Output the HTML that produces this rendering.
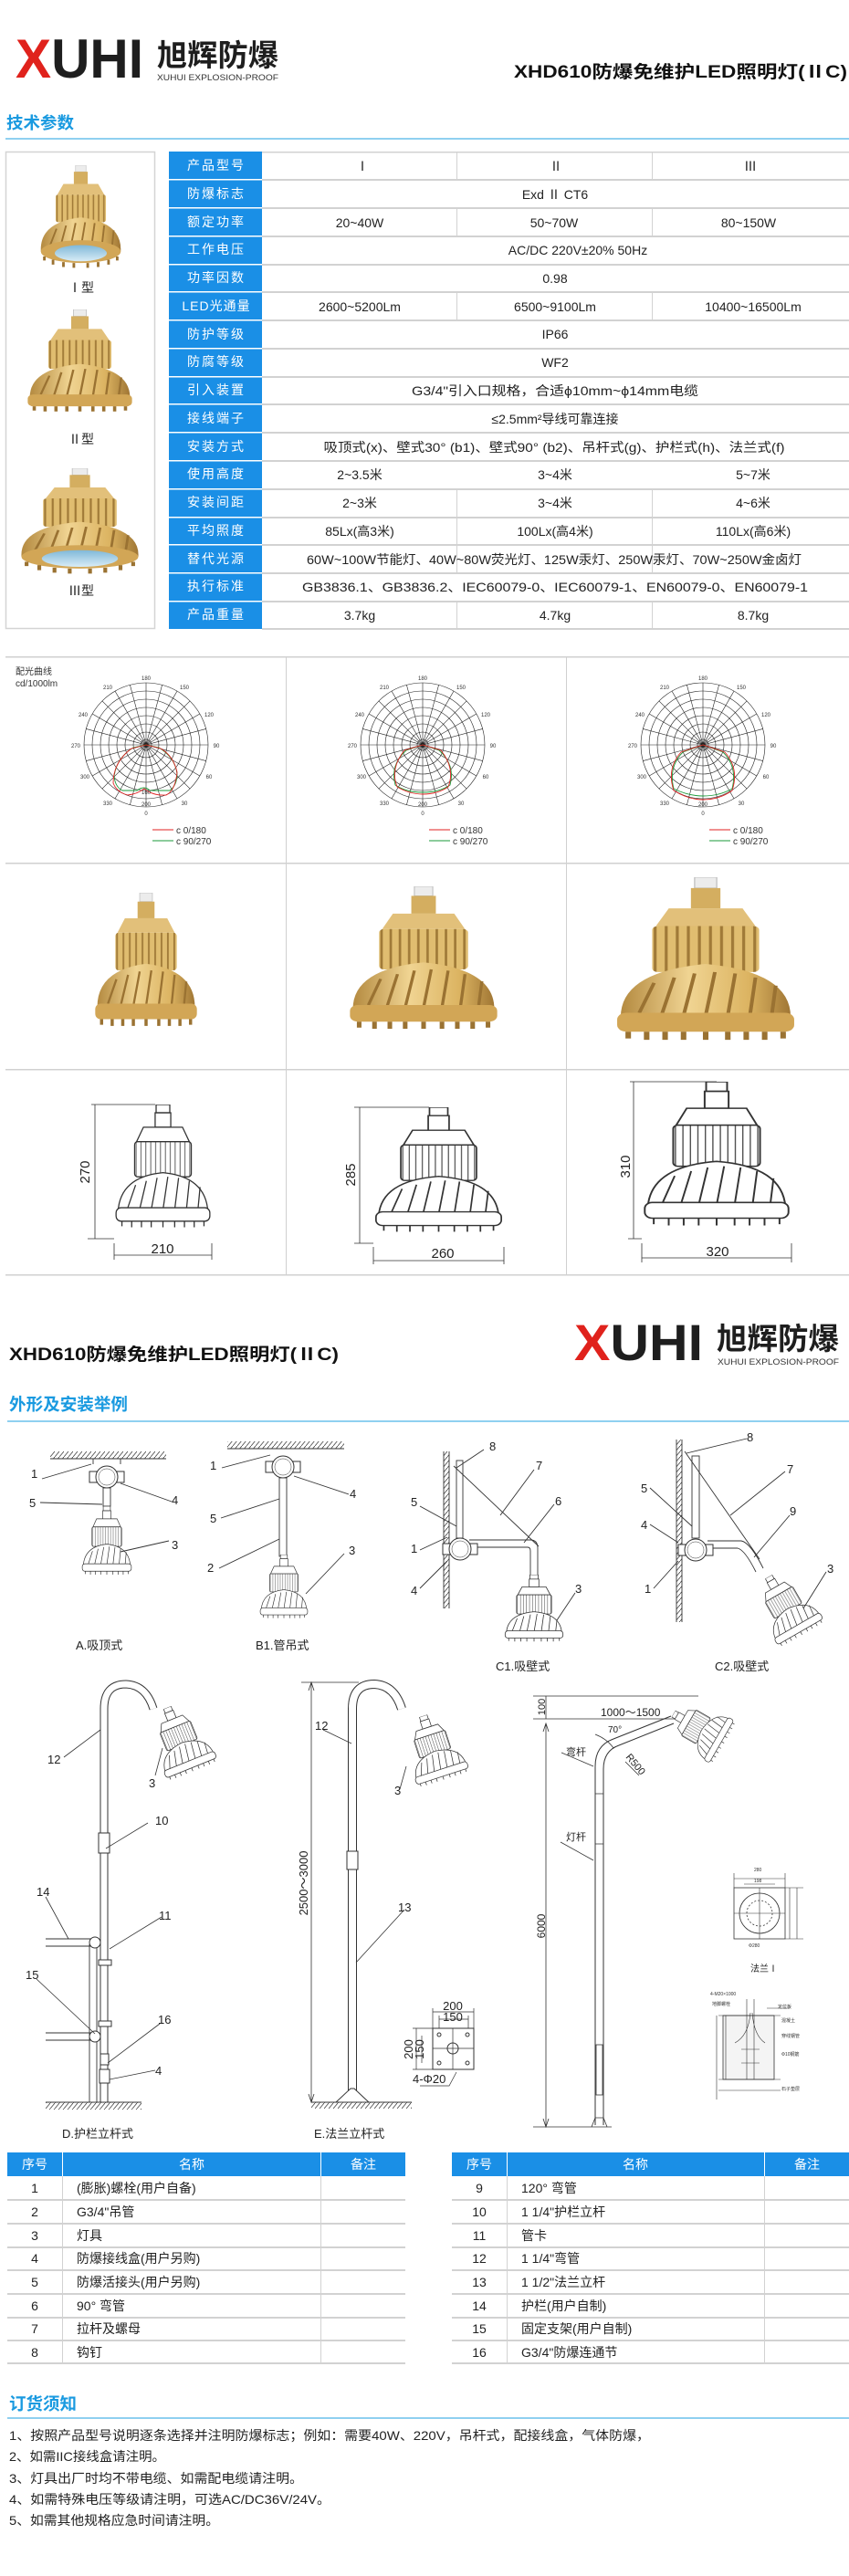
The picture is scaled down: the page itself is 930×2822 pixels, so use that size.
<!DOCTYPE html>
<html><head><meta charset="utf-8">
<style>
html,body{margin:0;padding:0;background:#fff;}
body{width:930px;height:2822px;position:relative;overflow:hidden;font-family:"Liberation Sans","Noto Sans CJK SC",sans-serif;}
svg{position:absolute;left:0;top:0;}
text{font-family:"Liberation Sans","Noto Sans CJK SC",sans-serif;}
</style></head><body>
<svg width="930" height="2822" viewBox="0 0 930 2822" xmlns="http://www.w3.org/2000/svg">
<defs>
<linearGradient id="gd" x1="0" x2="1" y1="0" y2="0"><stop offset="0" stop-color="#b48a40"/><stop offset=".4" stop-color="#f0d492"/><stop offset=".75" stop-color="#dcb462"/><stop offset="1" stop-color="#a07634"/></linearGradient>
<linearGradient id="bl" x1="0" x2="0" y1="0" y2="1"><stop offset="0" stop-color="#7fb8d8"/><stop offset="1" stop-color="#d8ecf6"/></linearGradient>
<pattern id="fins" width="6" height="10" patternUnits="userSpaceOnUse"><rect width="6" height="10" fill="#e0bd70"/><rect x="3.8" width="1.6" height="10" fill="#a07a38"/></pattern>
<pattern id="lfins" width="5" height="10" patternUnits="userSpaceOnUse"><rect width="5" height="10" fill="#fff"/><line x1="2.5" y1="0" x2="2.5" y2="10" stroke="#444" stroke-width=".8"/></pattern>
<pattern id="hatch" width="5" height="6" patternUnits="userSpaceOnUse"><line x1="0" y1="6" x2="5" y2="0" stroke="#444" stroke-width=".8"/></pattern>
<symbol id="lp" viewBox="0 0 100 130" preserveAspectRatio="none">
 <rect x="44" y="0" width="12" height="8" fill="#ececec" stroke="#bbb" stroke-width=".6"/>
 <rect x="42" y="8" width="16" height="15" fill="#d4ae60"/>
 <path d="M30 23 H70 L77 36 H23Z" fill="#e2c07a"/>
 <rect x="21" y="36" width="58" height="34" rx="3" fill="url(#fins)"/>
 <path d="M4 106 Q2 70 50 64 Q98 70 96 106Z" fill="url(#gd)"/>
 <path d="M14 100 L22 78 M26 102 L33 74 M38 102 L44 71 M50 102 L55 70 M62 102 L66 71 M74 102 L77 74 M86 100 L88 80" stroke="#9a7232" stroke-width="2"/>
 <rect x="2" y="100" width="96" height="14" rx="5" fill="#d2a656"/>
 <path d="M8 114 v5 M18 114 v6 M28 114 v6 M38 114 v6 M50 114 v6 M62 114 v6 M72 114 v6 M82 114 v6 M92 114 v5" stroke="#9a7232" stroke-width="3"/>
</symbol>
<symbol id="lpg" viewBox="0 0 100 130" preserveAspectRatio="none">
 <rect x="44" y="0" width="12" height="8" fill="#ececec" stroke="#bbb" stroke-width=".6"/>
 <rect x="42" y="8" width="16" height="15" fill="#d4ae60"/>
 <path d="M30 23 H70 L77 36 H23Z" fill="#e2c07a"/>
 <rect x="21" y="36" width="58" height="34" rx="3" fill="url(#fins)"/>
 <path d="M4 106 Q2 70 50 64 Q98 70 96 106Z" fill="url(#gd)"/>
 <path d="M14 100 L22 78 M26 102 L33 74 M38 102 L44 71 M50 102 L55 70 M62 102 L66 71 M74 102 L77 74 M86 100 L88 80" stroke="#9a7232" stroke-width="2"/>
 <ellipse cx="50" cy="106" rx="46" ry="14" fill="#d2a656"/>
 <ellipse cx="50" cy="108" rx="30" ry="10" fill="url(#bl)"/>
 <path d="M8 112 v5 M18 116 v6 M30 119 v6 M42 120 v6 M58 120 v6 M70 119 v6 M82 116 v6 M92 112 v5" stroke="#9a7232" stroke-width="3"/>
</symbol>
<symbol id="ll" viewBox="0 0 100 130" preserveAspectRatio="none">
 <g fill="#fff" stroke="#333" stroke-width="1.2">
 <rect x="43" y="0" width="14" height="8"/>
 <path d="M42 8 H58 V22 H42Z"/>
 <path d="M30 22 H70 L77 36 H23Z"/>
 <rect x="21" y="36" width="58" height="34" rx="3" fill="url(#lfins)"/>
 <path d="M4 104 Q6 70 50 66 Q94 70 96 104Z"/>
 <path d="M14 100 L22 78 M26 102 L33 74 M38 102 L44 71 M50 102 L55 70 M62 102 L66 71 M74 102 L77 74 M86 100 L88 80" fill="none"/>
 <rect x="2" y="100" width="96" height="13" rx="5"/>
 <path d="M8 113 v5 M18 113 v6 M28 113 v6 M38 113 v6 M50 113 v6 M62 113 v6 M72 113 v6 M82 113 v6 M92 113 v5"/>
 </g>
</symbol>
<symbol id="polar" viewBox="-80 -80 160 160">
 <g fill="none" stroke="#222" stroke-width=".6">
 <circle r="68"/><circle r="59"/><circle r="50"/><circle r="41"/><circle r="32"/><circle r="23"/><circle r="14"/><circle r="6"/>
 <path d="M0 -68V68M-68 0H68M-34 -58.9L34 58.9M34 -58.9L-34 58.9M-58.9 -34L58.9 34M58.9 -34L-58.9 34M-17.6 -65.7L17.6 65.7M17.6 -65.7L-17.6 65.7M-48.1 -48.1L48.1 48.1M48.1 -48.1L-48.1 48.1M-65.7 -17.6L65.7 17.6M65.7 -17.6L-65.7 17.6"/>
 </g>
</symbol>
<symbol id="jbox" viewBox="-20 -20 40 40">
 <g fill="#fff" stroke="#333" stroke-width="1">
 <rect x="-19" y="-6" width="8" height="12"/><rect x="11" y="-6" width="8" height="12"/>
 <circle r="12"/><circle r="9" fill="none" stroke-width=".5"/>
 </g>
</symbol>
</defs>

<!-- ===== HEADER ===== -->
<text x="17" y="85" font-size="60" font-weight="bold" textLength="140" lengthAdjust="spacingAndGlyphs"><tspan fill="#e0221c">X</tspan><tspan fill="#1e1e1e">UHI</tspan></text>
<text x="172" y="72" font-size="33" font-weight="bold" fill="#1e1e1e" textLength="133" lengthAdjust="spacingAndGlyphs">旭辉防爆</text>
<text x="172" y="88" font-size="9" fill="#333" textLength="133" lengthAdjust="spacingAndGlyphs">XUHUI EXPLOSION-PROOF</text>
<text x="563" y="85" font-size="19" font-weight="bold" fill="#111" textLength="365" lengthAdjust="spacingAndGlyphs">XHD610防爆免维护LED照明灯(ⅡC)</text>

<text x="7" y="141" font-size="18" font-weight="bold" fill="#1a9ae0" textLength="74" lengthAdjust="spacingAndGlyphs">技术参数</text>
<rect x="6" y="151" width="924" height="2" fill="#8fd0f0"/>

<!-- left panel -->
<rect x="6.5" y="166.5" width="163" height="522" fill="none" stroke="#d4d4d4" stroke-width="1.5"/>
<use href="#lpg" x="41" y="181" width="95" height="116"/>
<text x="89" y="320" font-size="14" text-anchor="middle" fill="#222">Ⅰ型</text>
<use href="#lp" x="28" y="339" width="119" height="121"/>
<text x="89" y="486" font-size="14" text-anchor="middle" fill="#222">Ⅱ型</text>
<use href="#lpg" x="18" y="513" width="139" height="119"/>
<text x="89" y="652" font-size="14" text-anchor="middle" fill="#222">Ⅲ型</text>

<!-- spec table -->
<g font-size="14" fill="#fff" text-anchor="middle" letter-spacing="2">
<rect x="185" y="166" width="102" height="523" fill="#1a8fe6"/>
<g fill="#fff">
<rect x="185" y="196" width="102" height="1.5"/><rect x="185" y="227" width="102" height="1.5"/><rect x="185" y="258" width="102" height="1.5"/><rect x="185" y="289" width="102" height="1.5"/><rect x="185" y="319" width="102" height="1.5"/><rect x="185" y="350" width="102" height="1.5"/><rect x="185" y="381" width="102" height="1.5"/><rect x="185" y="412" width="102" height="1.5"/><rect x="185" y="442" width="102" height="1.5"/><rect x="185" y="473" width="102" height="1.5"/><rect x="185" y="504" width="102" height="1.5"/><rect x="185" y="535" width="102" height="1.5"/><rect x="185" y="566" width="102" height="1.5"/><rect x="185" y="596" width="102" height="1.5"/><rect x="185" y="627" width="102" height="1.5"/><rect x="185" y="658" width="102" height="1.5"/>
</g>
<text x="237" y="186">产品型号</text><text x="237" y="217">防爆标志</text><text x="237" y="248">额定功率</text><text x="237" y="278">工作电压</text><text x="237" y="309">功率因数</text><text x="237" y="340" letter-spacing="1">LED光通量</text><text x="237" y="371">防护等级</text><text x="237" y="401">防腐等级</text><text x="237" y="432">引入装置</text><text x="237" y="463">接线端子</text><text x="237" y="494">安装方式</text><text x="237" y="524">使用高度</text><text x="237" y="555">安装间距</text><text x="237" y="586">平均照度</text><text x="237" y="617">替代光源</text><text x="237" y="647">执行标准</text><text x="237" y="678">产品重量</text>
</g>
<g fill="#d2d2d2">
<rect x="287" y="166" width="643" height="1.5"/>
<rect x="287" y="196" width="643" height="2"/><rect x="287" y="227" width="643" height="2"/><rect x="287" y="258" width="643" height="2"/><rect x="287" y="289" width="643" height="2"/><rect x="287" y="319" width="643" height="2"/><rect x="287" y="350" width="643" height="2"/><rect x="287" y="381" width="643" height="2"/><rect x="287" y="412" width="643" height="2"/><rect x="287" y="442" width="643" height="2"/><rect x="287" y="473" width="643" height="2"/><rect x="287" y="504" width="643" height="2"/><rect x="287" y="535" width="643" height="2"/><rect x="287" y="566" width="643" height="2"/><rect x="287" y="596" width="643" height="2"/><rect x="287" y="627" width="643" height="2"/><rect x="287" y="658" width="643" height="2"/><rect x="287" y="688" width="643" height="2"/>
<rect x="500" y="166" width="1" height="31"/><rect x="714" y="166" width="1" height="31"/>
<rect x="500" y="227" width="1" height="31"/><rect x="714" y="227" width="1" height="31"/>
<rect x="500" y="319" width="1" height="31"/><rect x="714" y="319" width="1" height="31"/>
<rect x="500" y="535" width="1" height="92"/><rect x="714" y="535" width="1" height="92"/>
<rect x="500" y="658" width="1" height="31"/><rect x="714" y="658" width="1" height="31"/>
</g>
<g font-size="14" fill="#222" text-anchor="middle">
<text x="397" y="187">Ⅰ</text><text x="609" y="187">Ⅱ</text><text x="822" y="187">Ⅲ</text>
<text x="608" y="218">Exd Ⅱ CT6</text>
<text x="394" y="249">20~40W</text><text x="607" y="249">50~70W</text><text x="820" y="249">80~150W</text>
<text x="633" y="279">AC/DC 220V±20%    50Hz</text>
<text x="608" y="310">0.98</text>
<text x="394" y="341">2600~5200Lm</text><text x="608" y="341">6500~9100Lm</text><text x="825" y="341">10400~16500Lm</text>
<text x="608" y="371">IP66</text>
<text x="608" y="402">WF2</text>
<text x="608" y="433" textLength="314" lengthAdjust="spacingAndGlyphs">G3/4"引入口规格，合适ϕ10mm~ϕ14mm电缆</text>
<text x="608" y="464">≤2.5mm²导线可靠连接</text>
<text x="607" y="495" textLength="505" lengthAdjust="spacingAndGlyphs">吸顶式(x)、壁式30° (b1)、壁式90° (b2)、吊杆式(g)、护栏式(h)、法兰式(f)</text>
<text x="394" y="525">2~3.5米</text><text x="608" y="525">3~4米</text><text x="825" y="525">5~7米</text>
<text x="394" y="556">2~3米</text><text x="608" y="556">3~4米</text><text x="825" y="556">4~6米</text>
<text x="394" y="587">85Lx(高3米)</text><text x="608" y="587">100Lx(高4米)</text><text x="825" y="587">110Lx(高6米)</text>
<text x="607" y="618" textLength="542" lengthAdjust="spacingAndGlyphs">60W~100W节能灯、40W~80W荧光灯、125W汞灯、250W汞灯、70W~250W金卤灯</text>
<text x="608" y="648" textLength="554" lengthAdjust="spacingAndGlyphs">GB3836.1、GB3836.2、IEC60079-0、IEC60079-1、EN60079-0、EN60079-1</text>
<text x="394" y="679">3.7kg</text><text x="608" y="679">4.7kg</text><text x="825" y="679">8.7kg</text>
</g>

<!-- ===== POLAR / PHOTOS / DIMENSIONS FRAME ===== -->
<g fill="#d0d0d0">
<rect x="6" y="719" width="924" height="1.5"/><rect x="6" y="945" width="924" height="1.5"/><rect x="6" y="1171" width="924" height="1.5"/><rect x="6" y="1396" width="924" height="1.5"/>
<rect x="313" y="719" width="1" height="678"/><rect x="620" y="719" width="1" height="678"/>
</g>
<text x="17" y="739" font-size="10" fill="#333">配光曲线</text>
<text x="17" y="752" font-size="10" fill="#333">cd/1000lm</text>

<g id="p1">
<use href="#polar" x="80" y="736" width="160" height="160"/>
<path d="M160 816 L146 819 Q128 830 125 850 Q126 862 134 866 L150 866 Q158 860 164 866 L186 866 Q194 860 194 848 Q192 830 174 819 Z" fill="none" stroke="#1a9a3a" stroke-width=".9"/>
<path d="M160 816 L144 820 Q124 835 124 858 Q128 868 140 871 Q150 870 158 864 Q168 872 182 871 Q192 866 194 846 Q190 828 176 820 Z" fill="none" stroke="#e02020" stroke-width=".9"/>
</g>
<g font-size="6" fill="#333" text-anchor="middle">
<text x="160" y="745">180</text><text x="202" y="755">150</text><text x="118" y="755">210</text><text x="229" y="785">120</text><text x="91" y="785">240</text><text x="237" y="819">90</text><text x="83" y="819">270</text><text x="229" y="853">60</text><text x="93" y="853">300</text><text x="202" y="882">30</text><text x="118" y="882">330</text><text x="160" y="893">0</text><text x="160" y="883">200</text><text x="160" y="870">160</text>
</g>
<g transform="translate(303,0)">
<use href="#polar" x="80" y="736" width="160" height="160"/>
<path d="M160 816 L142 822 Q124 838 130 860 Q142 868 160 868 Q178 868 190 860 Q196 838 178 822 Z" fill="none" stroke="#1a9a3a" stroke-width=".9"/>
<path d="M160 816 L140 822 Q124 842 132 862 Q146 870 160 870 Q176 870 188 862 Q196 842 180 822 Z" fill="none" stroke="#e02020" stroke-width=".9"/>
<g font-size="6" fill="#333" text-anchor="middle">
<text x="160" y="745">180</text><text x="202" y="755">150</text><text x="118" y="755">210</text><text x="229" y="785">120</text><text x="91" y="785">240</text><text x="237" y="819">90</text><text x="83" y="819">270</text><text x="229" y="853">60</text><text x="93" y="853">300</text><text x="202" y="882">30</text><text x="118" y="882">330</text><text x="160" y="893">0</text><text x="160" y="883">200</text>
</g></g>
<g transform="translate(610,0)">
<use href="#polar" x="80" y="736" width="160" height="160"/>
<path d="M160 816 L138 824 Q122 840 128 864 Q144 872 160 872 Q178 872 192 864 Q198 840 182 824 Z" fill="none" stroke="#1a9a3a" stroke-width=".9"/>
<path d="M160 816 L136 824 Q120 842 128 866 Q144 876 160 876 Q178 876 192 866 Q200 842 184 824 Z" fill="none" stroke="#e02020" stroke-width=".9"/>
<g font-size="6" fill="#333" text-anchor="middle">
<text x="160" y="745">180</text><text x="202" y="755">150</text><text x="118" y="755">210</text><text x="229" y="785">120</text><text x="91" y="785">240</text><text x="237" y="819">90</text><text x="83" y="819">270</text><text x="229" y="853">60</text><text x="93" y="853">300</text><text x="202" y="882">30</text><text x="118" y="882">330</text><text x="160" y="893">0</text><text x="160" y="883">200</text>
</g></g>
<g font-size="10" fill="#333">
<line x1="167" y1="909" x2="190" y2="909" stroke="#e02020"/><text x="193" y="913">c 0/180</text>
<line x1="167" y1="921" x2="190" y2="921" stroke="#1a9a3a"/><text x="193" y="925">c 90/270</text>
<line x1="470" y1="909" x2="493" y2="909" stroke="#e02020"/><text x="496" y="913">c 0/180</text>
<line x1="470" y1="921" x2="493" y2="921" stroke="#1a9a3a"/><text x="496" y="925">c 90/270</text>
<line x1="777" y1="909" x2="800" y2="909" stroke="#e02020"/><text x="803" y="913">c 0/180</text>
<line x1="777" y1="921" x2="800" y2="921" stroke="#1a9a3a"/><text x="803" y="925">c 90/270</text>
</g>

<!-- photos -->
<use href="#lp" x="102" y="978" width="116" height="158"/>
<use href="#lp" x="380" y="971" width="168" height="169"/>
<use href="#lp" x="672" y="961" width="202" height="193"/>

<!-- dimension drawings -->
<g stroke="#333" stroke-width=".8" fill="none">
<use href="#ll" x="125" y="1210" width="107" height="147"/>
<path d="M100 1210 H170 M104 1210 V1357 M96 1357 H125 M125 1362 V1380 M232 1362 V1380 M125 1375 H232"/>
<use href="#ll" x="409" y="1213" width="143" height="149"/>
<path d="M388 1213 H470 M394 1213 V1362 M388 1362 H409 M409 1366 V1385 M552 1366 V1385 M409 1381 H552"/>
<use href="#ll" x="703" y="1185" width="164" height="172"/>
<path d="M690 1185 H785 M694 1185 V1357 M688 1357 H703 M703 1362 V1383 M867 1362 V1383 M703 1378 H867"/>
</g>
<g font-size="15" fill="#222" text-anchor="middle">
<text transform="translate(98,1284) rotate(-90)">270</text>
<text transform="translate(389,1287) rotate(-90)">285</text>
<text transform="translate(690,1278) rotate(-90)">310</text>
<text x="178" y="1373">210</text><text x="485" y="1378">260</text><text x="786" y="1376">320</text>
</g>

<!-- ===== SECTION 2 HEADER ===== -->
<text x="10" y="1490" font-size="19" font-weight="bold" fill="#111" textLength="361" lengthAdjust="spacingAndGlyphs">XHD610防爆免维护LED照明灯(ⅡC)</text>
<text x="629" y="1490" font-size="56" font-weight="bold" textLength="141" lengthAdjust="spacingAndGlyphs"><tspan fill="#e0221c">X</tspan><tspan fill="#1e1e1e">UHI</tspan></text>
<text x="785" y="1478" font-size="33" font-weight="bold" fill="#1e1e1e" textLength="134" lengthAdjust="spacingAndGlyphs">旭辉防爆</text>
<text x="786" y="1495" font-size="9" fill="#333" textLength="133" lengthAdjust="spacingAndGlyphs">XUHUI EXPLOSION-PROOF</text>
<text x="10" y="1545" font-size="18.6" font-weight="bold" fill="#1a9ae0" textLength="130" lengthAdjust="spacingAndGlyphs">外形及安装举例</text>
<rect x="8" y="1556" width="922" height="2" fill="#8fd0f0"/>

<!-- ===== INSTALLATION DRAWINGS ===== -->
<g stroke="#333" stroke-width=".9" fill="none">
<!-- A -->
<rect x="55" y="1590" width="127" height="8" fill="url(#hatch)" stroke="none"/>
<line x1="55" y1="1598" x2="182" y2="1598"/>
<path d="M102 1598 V1604 M132 1598 V1604"/>
<use href="#jbox" x="97" y="1598" width="40" height="40"/>
<rect x="113" y="1630" width="8" height="20" fill="#fff"/>
<use href="#ll" x="89" y="1650" width="56" height="82"/>
<path d="M46 1620 L100 1604 M44 1646 L112 1648 M132 1625 L188 1645 M132 1700 L185 1688"/>
<!-- B1 -->
<rect x="249" y="1579" width="128" height="8" fill="url(#hatch)" stroke="none"/>
<line x1="249" y1="1587" x2="377" y2="1587"/>
<use href="#jbox" x="290" y="1587" width="40" height="40"/>
<rect x="306" y="1619" width="8" height="86" fill="#fff"/>
<use href="#ll" x="284" y="1703" width="54" height="76"/>
<path d="M243 1608 L296 1594 M322 1617 L382 1637 M242 1663 L306 1642 M240 1718 L306 1686 M335 1746 L377 1702"/>
<!-- C1 -->
<rect x="486" y="1590" width="6" height="172" fill="url(#hatch)" stroke="none"/>
<line x1="492" y1="1590" x2="492" y2="1762"/><line x1="486" y1="1590" x2="486" y2="1762"/>
<rect x="500" y="1600" width="7" height="85" fill="#fff"/>
<path d="M514 1687 H581 Q589 1687 589 1696 V1730 M514 1695 H578 Q581 1695 581 1699 V1730" />
<use href="#jbox" x="484" y="1677" width="40" height="40"/>
<line x1="497" y1="1606" x2="590" y2="1694"/>
<use href="#ll" x="552" y="1725" width="66" height="80"/>
<path d="M530 1588 L500 1608 M585 1610 L548 1660 M607 1648 L574 1690 M460 1650 L500 1672 M460 1698 L490 1684 M460 1740 L490 1710 M630 1745 L610 1775"/>
<!-- C2 -->
<rect x="741" y="1577" width="6" height="200" fill="url(#hatch)" stroke="none"/>
<line x1="747" y1="1577" x2="747" y2="1777"/><line x1="741" y1="1577" x2="741" y2="1777"/>
<rect x="758" y="1595" width="8" height="90" fill="#fff"/>
<path d="M775 1688 H812 Q822 1690 836 1718 M775 1696 H808 Q816 1698 828 1722"/>
<use href="#jbox" x="742" y="1678" width="40" height="40"/>
<line x1="750" y1="1590" x2="832" y2="1708"/>
<g transform="rotate(-30 862 1762)"><use href="#ll" x="832" y="1722" width="60" height="80"/></g>
<path d="M818 1576 L752 1592 M860 1612 L800 1660 M865 1660 L826 1706 M712 1630 L758 1672 M712 1670 L743 1690 M716 1740 L743 1710 M905 1722 L880 1762"/>
</g>
<g font-size="13" fill="#222">
<text x="34" y="1619">1</text><text x="32" y="1651">5</text><text x="188" y="1648">4</text><text x="188" y="1697">3</text>
<text x="230" y="1610">1</text><text x="383" y="1641">4</text><text x="230" y="1668">5</text><text x="227" y="1722">2</text><text x="382" y="1703">3</text>
<text x="536" y="1589">8</text><text x="587" y="1610">7</text><text x="608" y="1649">6</text><text x="450" y="1650">5</text><text x="450" y="1701">1</text><text x="450" y="1747">4</text><text x="630" y="1745">3</text>
<text x="818" y="1579">8</text><text x="862" y="1614">7</text><text x="865" y="1660">9</text><text x="702" y="1635">5</text><text x="702" y="1675">4</text><text x="706" y="1745">1</text><text x="906" y="1723">3</text>
</g>
<g font-size="13" fill="#222">
<text x="83" y="1807">A.吸顶式</text><text x="280" y="1807">B1.管吊式</text><text x="543" y="1830">C1.吸壁式</text><text x="783" y="1830">C2.吸壁式</text>
</g>

<!-- D -->
<g fill="none">
<path d="M114 2303 V1872 Q114 1845 138 1845 Q160 1846 168 1872" stroke="#333" stroke-width="9"/>
<path d="M114 2303 V1872 Q114 1845 138 1845 Q160 1846 168 1872" stroke="#fff" stroke-width="7"/>
<path d="M50 2124 H104 M50 2132 H104 M50 2227 H104 M50 2235 H104 M98 2130 V2303 M106 2130 V2303" stroke="#333" stroke-width=".9"/>
<circle cx="104" cy="2128" r="6" fill="#fff" stroke="#333"/><circle cx="104" cy="2231" r="6" fill="#fff" stroke="#333"/>
<rect x="108" y="2008" width="12" height="22" fill="#fff" stroke="#333"/>
<rect x="108" y="2147" width="14" height="6" fill="#fff" stroke="#333"/><rect x="108" y="2214" width="14" height="6" fill="#fff" stroke="#333"/>
<rect x="110" y="2250" width="9" height="12" fill="#fff" stroke="#333"/><rect x="109" y="2267" width="11" height="15" fill="#fff" stroke="#333"/>
<rect x="50" y="2303" width="105" height="8" fill="url(#hatch)"/>
<line x1="50" y1="2303" x2="155" y2="2303" stroke="#333"/>
<g transform="rotate(-22 198 1910)"><use href="#ll" x="168" y="1868" width="62" height="82"/></g>
<path d="M70 1925 L110 1895 M170 1945 L178 1915 M162 1997 L116 2025 M50 2078 L75 2124 M177 2100 L120 2135 M40 2168 L104 2228 M175 2217 L118 2260 M170 2268 L120 2278" stroke="#333" stroke-width=".8"/>
</g>
<g font-size="13" fill="#222">
<text x="52" y="1932">12</text><text x="163" y="1958">3</text><text x="170" y="1999">10</text><text x="40" y="2077">14</text><text x="174" y="2103">11</text><text x="28" y="2168">15</text><text x="173" y="2217">16</text><text x="170" y="2273">4</text>
<text x="68" y="2342">D.护栏立杆式</text><text x="344" y="2342">E.法兰立杆式</text>
</g>
<!-- E -->
<g fill="none">
<path d="M386 2295 V1872 Q386 1845 410 1845 Q432 1846 440 1872" stroke="#333" stroke-width="10"/>
<path d="M386 2295 V1872 Q386 1845 410 1845 Q432 1846 440 1872" stroke="#fff" stroke-width="8"/>
<rect x="380" y="2028" width="12" height="20" fill="#fff" stroke="#333"/>
<path d="M368 2303 L384 2288 H388 L404 2303 Z" fill="#fff" stroke="#333"/>
<rect x="341" y="2303" width="110" height="7" fill="url(#hatch)"/>
<line x1="341" y1="2303" x2="451" y2="2303" stroke="#333"/>
<path d="M330 1843 H393 M341 1843 V2303 M338 1852 L341 1843 L344 1852 M338 2294 L341 2303 L344 2294" stroke="#333" stroke-width=".8"/>
<g transform="rotate(-18 475 1915)"><use href="#ll" x="444" y="1878" width="62" height="80"/></g>
<path d="M354 1895 L385 1910 M438 1960 L445 1935 M443 2092 L390 2150" stroke="#333" stroke-width=".8"/>
<rect x="474" y="2222" width="45" height="45" fill="#fff" stroke="#333"/>
<path d="M474 2244 H519 M496 2222 V2267 M474 2200 V2222 M519 2200 V2222 M474 2204 H519 M481 2212 H513 M481 2208 V2222 M513 2208 V2222 M452 2222 H474 M452 2267 H474 M456 2222 V2267 M462 2230 V2260" stroke="#333" stroke-width=".7"/>
<circle cx="481" cy="2229" r="2" stroke="#333"/><circle cx="512" cy="2229" r="2" stroke="#333"/><circle cx="481" cy="2260" r="2" stroke="#333"/><circle cx="512" cy="2260" r="2" stroke="#333"/>
<circle cx="496" cy="2244" r="6" stroke="#333"/>
<path d="M500 2270 L492 2285 H460" stroke="#333" stroke-width=".7"/>
</g>
<g font-size="13" fill="#222">
<text x="345" y="1895">12</text><text x="432" y="1966">3</text><text x="436" y="2094">13</text>
<text transform="translate(337,2063) rotate(-90)" text-anchor="middle">2500～3000</text>
<text x="496" y="2202" text-anchor="middle">200</text><text x="496" y="2214" text-anchor="middle">150</text>
<text transform="translate(452,2245) rotate(-90)" text-anchor="middle">200</text><text transform="translate(464,2245) rotate(-90)" text-anchor="middle">150</text>
<text x="452" y="2282">4-Φ20</text>
</g>
<!-- F 6000 -->
<g fill="none" stroke="#333" stroke-width=".8">
<path d="M584 1858 H765 M584 1883 H760 M598 1858 V1883 M598 1888 V2330 M595 1897 L598 1888 L601 1897 M595 2321 L598 2330 L601 2321 M584 2330 H670"/>
<path d="M652 2328 V1935 Q652 1912 672 1905 L735 1880 M661 2328 V1938 Q661 1918 678 1912 L738 1888" stroke-width="1"/>
<path d="M652 1965 H661 M652 2020 H661"/>
<rect x="653" y="2240" width="7" height="55" fill="#fff"/>
<path d="M648 2330 L652 2320 H661 L665 2330"/>
<g transform="rotate(-60 768 1895)"><use href="#ll" x="740" y="1860" width="56" height="70"/></g>
<path d="M652 1900 Q665 1905 672 1915 M615 1920 L650 1935 M614 2018 L650 2038 M685 1930 L700 1945"/>
<!-- flange I -->
<rect x="804" y="2068" width="56" height="56" fill="#fff"/>
<circle cx="832" cy="2096" r="22"/><circle cx="832" cy="2096" r="14" stroke-dasharray="2 2"/>
<path d="M804 2058 H860 M804 2052 V2068 M860 2052 V2068 M815 2064 H849 M865 2068 V2124 M873 2068 V2124 M860 2068 H880 M860 2124 H880 M804 2096 H860 M832 2068 V2124" stroke-width=".6"/>
<!-- foundation -->
<rect x="792" y="2208" width="56" height="70" fill="#f4f4f4"/>
<path d="M787 2208 H855 M787 2278 H855 M787 2290 H855 M818 2190 V2278 M826 2190 V2278 M805 2238 Q820 2230 822 2205 M838 2238 Q826 2230 824 2205 M785 2208 V2300 M795 2208 V2278 M812 2245 H832 M812 2260 H832 M850 2200 H860 M840 2200 H865" stroke-width=".6"/>
</g>
<g font-size="13" fill="#222">
<text transform="translate(597,1870) rotate(-90)" text-anchor="middle" font-size="11">100</text>
<text x="658" y="1880" font-size="12">1000～1500</text>
<text x="666" y="1898" font-size="10">70°</text>
<text x="620" y="1923" font-size="11">弯杆</text>
<text x="620" y="2016" font-size="11">灯杆</text>
<text transform="translate(685,1925) rotate(50)" font-size="11">R500</text>
<text transform="translate(597,2110) rotate(-90)" text-anchor="middle" font-size="12">6000</text>
<text x="822" y="2160" font-size="10">法兰Ⅰ</text>
</g>
<g font-size="5" fill="#333">
<text x="826" y="2050">280</text><text x="826" y="2062">198</text><text x="820" y="2133">Φ280</text>
<text x="778" y="2186">4-M20×1000</text><text x="780" y="2197">地脚螺栓</text><text x="852" y="2200">定位板</text><text x="856" y="2215">混凝土</text><text x="856" y="2232">穿线钢管</text><text x="856" y="2252">Φ10钢筋</text><text x="856" y="2290">石子垫层</text>
</g>

<!-- ===== PARTS TABLES ===== -->
<rect x="8" y="2358" width="436" height="26" fill="#1a8fe6"/>
<rect x="495" y="2358" width="435" height="26" fill="#1a8fe6"/>
<g fill="#fff"><rect x="68" y="2358" width="1" height="26"/><rect x="351" y="2358" width="1" height="26"/><rect x="555" y="2358" width="1" height="26"/><rect x="837" y="2358" width="1" height="26"/></g>
<g fill="#d2d2d2">
<rect x="8" y="2409" width="436" height="2"/><rect x="8" y="2435" width="436" height="2"/><rect x="8" y="2461" width="436" height="2"/><rect x="8" y="2486" width="436" height="2"/><rect x="8" y="2512" width="436" height="2"/><rect x="8" y="2538" width="436" height="2"/><rect x="8" y="2563" width="436" height="2"/><rect x="8" y="2588" width="436" height="2"/>
<rect x="495" y="2409" width="435" height="2"/><rect x="495" y="2435" width="435" height="2"/><rect x="495" y="2461" width="435" height="2"/><rect x="495" y="2486" width="435" height="2"/><rect x="495" y="2512" width="435" height="2"/><rect x="495" y="2538" width="435" height="2"/><rect x="495" y="2563" width="435" height="2"/><rect x="495" y="2588" width="435" height="2"/>
<rect x="68" y="2384" width="1" height="205"/><rect x="351" y="2384" width="1" height="205"/><rect x="555" y="2384" width="1" height="205"/><rect x="837" y="2384" width="1" height="205"/>
</g>
<g font-size="14" fill="#fff" text-anchor="middle">
<text x="38" y="2376">序号</text><text x="210" y="2376">名称</text><text x="398" y="2376">备注</text>
<text x="525" y="2376">序号</text><text x="696" y="2376">名称</text><text x="884" y="2376">备注</text>
</g>
<g font-size="14" fill="#222">
<g text-anchor="middle">
<text x="38" y="2402">1</text><text x="38" y="2428">2</text><text x="38" y="2454">3</text><text x="38" y="2479">4</text><text x="38" y="2505">5</text><text x="38" y="2531">6</text><text x="38" y="2556">7</text><text x="38" y="2582">8</text>
<text x="525" y="2402">9</text><text x="525" y="2428">10</text><text x="525" y="2454">11</text><text x="525" y="2479">12</text><text x="525" y="2505">13</text><text x="525" y="2531">14</text><text x="525" y="2556">15</text><text x="525" y="2582">16</text>
</g>
<text x="84" y="2402">(膨胀)螺栓(用户自备)</text><text x="84" y="2428">G3/4"吊管</text><text x="84" y="2454">灯具</text><text x="84" y="2479">防爆接线盒(用户另购)</text><text x="84" y="2505">防爆活接头(用户另购)</text><text x="84" y="2531">90° 弯管</text><text x="84" y="2556">拉杆及螺母</text><text x="84" y="2582">钩钉</text>
<text x="571" y="2402">120° 弯管</text><text x="571" y="2428">1 1/4"护栏立杆</text><text x="571" y="2454">管卡</text><text x="571" y="2479">1 1/4"弯管</text><text x="571" y="2505">1 1/2"法兰立杆</text><text x="571" y="2531">护栏(用户自制)</text><text x="571" y="2556">固定支架(用户自制)</text><text x="571" y="2582">G3/4"防爆连通节</text>
</g>

<!-- ===== ORDER NOTES ===== -->
<text x="10" y="2640" font-size="18.5" font-weight="bold" fill="#1a9ae0" textLength="74" lengthAdjust="spacingAndGlyphs">订货须知</text>
<rect x="8" y="2648" width="922" height="2" fill="#8fd0f0"/>
<g font-size="14" fill="#222">
<text x="10" y="2673" textLength="702" lengthAdjust="spacingAndGlyphs">1、按照产品型号说明逐条选择并注明防爆标志；例如：需要40W、220V，吊杆式，配接线盒，气体防爆，</text>
<text x="10" y="2696" textLength="171" lengthAdjust="spacingAndGlyphs">2、如需IIC接线盒请注明。</text>
<text x="10" y="2720" textLength="322" lengthAdjust="spacingAndGlyphs">3、灯具出厂时均不带电缆、如需配电缆请注明。</text>
<text x="10" y="2743" textLength="352" lengthAdjust="spacingAndGlyphs">4、如需特殊电压等级请注明，可选AC/DC36V/24V。</text>
<text x="10" y="2766" textLength="230" lengthAdjust="spacingAndGlyphs">5、如需其他规格应急时间请注明。</text>
</g>
</svg>
</body></html>
